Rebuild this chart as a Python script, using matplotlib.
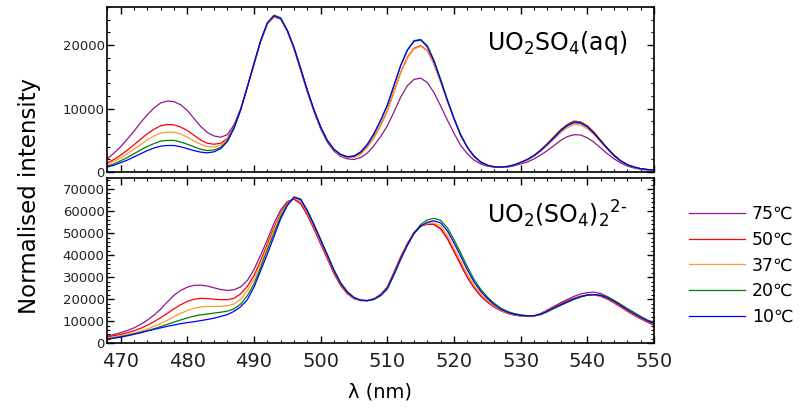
import matplotlib
matplotlib.use("Agg")
import matplotlib.pyplot as plt
import numpy as np
from matplotlib.ticker import MultipleLocator

# wavelength grid (nm), 1 nm steps
wl = np.arange(468, 551)

labels = ["75℃", "50℃", "37℃", "20℃", "10℃"]
colors = ["#8B1A8B", "#FF0000", "#FF9A2E", "#008000", "#0000FF"]

# UO2SO4(aq) spectra, in units of 1000
top_75 = [2.1, 3.0, 4.0, 5.2, 6.45, 7.8, 9.05, 10.1, 10.9, 11.2, 11.1, 10.6, 9.7, 8.45, 7.2, 6.25, 5.7, 5.5, 5.9, 7.45, 10.0,
          13.4, 17.0, 20.6, 23.4, 24.45, 24.1, 22.2, 19.4, 16.0, 12.6, 9.5, 6.8, 4.7, 3.3, 2.5, 2.1, 2.0, 2.3, 3.0, 4.2, 5.6,
          7.3, 9.5, 11.8, 13.6, 14.6, 14.8, 14.1, 12.5, 10.4, 8.2, 6.1, 4.2, 2.9, 1.9, 1.3, 0.95, 0.8, 0.75, 0.8, 1.0, 1.3,
          1.6, 2.1, 2.7, 3.4, 4.2, 5.0, 5.6, 5.9, 5.85, 5.4, 4.7, 3.8, 2.9, 2.1, 1.45, 0.95, 0.65, 0.45, 0.35, 0.3]
top_50 = [1.45, 2.0, 2.7, 3.45, 4.3, 5.2, 6.05, 6.75, 7.3, 7.5, 7.45, 7.1, 6.55, 5.8, 5.05, 4.55, 4.4, 4.55, 5.3, 7.15, 9.9,
          13.4, 17.0, 20.6, 23.3, 24.4, 24.1, 22.2, 19.5, 16.2, 12.8, 9.7, 7.0, 4.9, 3.5, 2.7, 2.3, 2.4, 2.9, 4.0, 5.5, 7.4,
          9.7, 12.7, 15.7, 18.1, 19.5, 19.9, 19.1, 17.0, 14.2, 11.2, 8.4, 5.8, 3.9, 2.5, 1.6, 1.05, 0.8, 0.75, 0.85, 1.1, 1.5,
          2.0, 2.65, 3.5, 4.5, 5.6, 6.7, 7.5, 8.05, 7.9, 7.3, 6.3, 5.0, 3.8, 2.7, 1.8, 1.2, 0.8, 0.55, 0.4, 0.3]
top_37 = [1.2, 1.7, 2.25, 2.9, 3.6, 4.35, 5.1, 5.7, 6.15, 6.3, 6.3, 6.0, 5.5, 4.9, 4.4, 4.0, 3.95, 4.25, 5.1, 7.05, 9.85,
          13.4, 17.0, 20.6, 23.3, 24.4, 24.1, 22.2, 19.5, 16.2, 12.8, 9.7, 7.0, 4.9, 3.5, 2.65, 2.3, 2.35, 2.85, 3.95, 5.4, 7.3,
          9.6, 12.6, 15.6, 18.0, 19.4, 19.8, 19.1, 17.0, 14.2, 11.2, 8.4, 5.8, 3.9, 2.5, 1.6, 1.05, 0.8, 0.75, 0.85, 1.1, 1.45,
          1.9, 2.5, 3.3, 4.2, 5.2, 6.2, 7.0, 7.5, 7.4, 6.8, 5.9, 4.7, 3.6, 2.5, 1.7, 1.1, 0.75, 0.5, 0.4, 0.32]
top_20 = [0.95, 1.3, 1.8, 2.3, 2.9, 3.5, 4.05, 4.5, 4.9, 5.0, 5.0, 4.75, 4.4, 4.0, 3.6, 3.4, 3.5, 3.9, 4.9, 7.0, 9.8,
          13.4, 17.1, 20.7, 23.5, 24.7, 24.3, 22.3, 19.6, 16.3, 12.9, 9.8, 7.1, 5.0, 3.6, 2.75, 2.4, 2.5, 3.1, 4.3, 6.0, 8.1,
          10.5, 13.6, 16.8, 19.2, 20.7, 20.9, 19.9, 17.6, 14.6, 11.4, 8.5, 5.9, 3.9, 2.5, 1.6, 1.1, 0.85, 0.8, 0.9, 1.15, 1.55,
          2.0, 2.65, 3.45, 4.45, 5.5, 6.6, 7.4, 7.9, 7.8, 7.2, 6.15, 4.95, 3.75, 2.65, 1.8, 1.2, 0.8, 0.55, 0.42, 0.35]
top_10 = [0.8, 1.1, 1.5, 1.9, 2.4, 2.9, 3.4, 3.8, 4.1, 4.2, 4.2, 4.0, 3.7, 3.4, 3.15, 3.05, 3.2, 3.7, 4.8, 6.9, 9.8,
          13.4, 17.1, 20.7, 23.5, 24.6, 24.2, 22.3, 19.6, 16.3, 12.9, 9.8, 7.1, 5.0, 3.6, 2.8, 2.45, 2.55, 3.2, 4.4, 6.1, 8.2,
          10.6, 13.7, 16.8, 19.2, 20.6, 20.8, 19.7, 17.4, 14.4, 11.3, 8.4, 5.8, 3.9, 2.5, 1.6, 1.1, 0.85, 0.8, 0.9, 1.15, 1.55,
          2.0, 2.6, 3.4, 4.4, 5.4, 6.5, 7.3, 7.8, 7.7, 7.1, 6.1, 4.9, 3.7, 2.6, 1.75, 1.15, 0.8, 0.55, 0.42, 0.35]

# UO2(SO4)2 2- spectra, in units of 1000
bot_75 = [3.3, 4.0, 4.8, 5.8, 7.0, 8.6, 10.5, 12.8, 15.5, 18.8, 21.8, 24.0, 25.5, 26.3, 26.4, 26.0, 25.2, 24.4, 24.0, 24.3, 25.6,
          28.5, 33.5, 40.0, 47.0, 54.5, 60.5, 64.3, 65.4, 63.4, 58.2, 51.9, 45.1, 38.4, 31.7, 26.2, 22.5, 20.3, 19.4, 19.4, 20.2, 22.2,
          25.6, 32.2, 39.2, 45.2, 50.3, 53.2, 54.1, 53.9, 51.9, 47.5, 41.6, 35.7, 29.9, 25.2, 21.5, 18.7, 16.5, 14.8, 13.6, 12.8, 12.4,
          12.3, 12.4, 13.5, 15.1, 16.8, 18.4, 19.9, 21.3, 22.4, 23.0, 23.2, 22.6, 21.2, 19.3, 17.2, 15.1, 13.1, 11.4, 9.7, 8.2]
bot_50 = [2.9, 3.4, 4.0, 4.8, 5.7, 6.8, 8.2, 9.8, 11.6, 13.6, 15.6, 17.5, 19.0, 20.0, 20.4, 20.3, 20.0, 19.8, 19.8, 20.4, 22.5,
          25.8, 30.8, 37.5, 45.0, 52.5, 59.0, 64.2, 65.5, 63.5, 58.3, 52.0, 45.2, 38.5, 31.8, 26.3, 22.6, 20.3, 19.4, 19.4, 20.2, 22.2,
          25.6, 32.2, 39.2, 45.2, 50.3, 53.2, 54.1, 54.0, 52.0, 47.6, 41.7, 35.8, 30.0, 25.3, 21.6, 18.8, 16.6, 14.9, 13.7, 12.9, 12.5,
          12.3, 12.4, 13.4, 14.9, 16.4, 17.9, 19.3, 20.5, 21.4, 22.0, 22.0, 21.3, 20.0, 18.3, 16.4, 14.5, 12.7, 11.1, 9.6, 8.3]
bot_37 = [2.4, 2.9, 3.4, 4.0, 4.7, 5.5, 6.5, 7.7, 9.0, 10.5, 12.1, 13.6, 14.9, 15.9, 16.5, 16.7, 16.7, 16.8, 17.0, 17.8, 20.0,
          23.8, 29.2, 36.2, 44.0, 51.5, 58.5, 63.5, 66.0, 64.5, 59.2, 52.9, 46.1, 39.3, 32.5, 26.8, 22.9, 20.5, 19.5, 19.4, 20.1, 22.0,
          25.3, 31.8, 38.8, 44.8, 49.9, 53.1, 54.5, 54.7, 53.2, 49.0, 43.2, 37.3, 31.3, 26.3, 22.4, 19.4, 17.0, 15.1, 13.8, 13.0, 12.5,
          12.3, 12.4, 13.3, 14.7, 16.2, 17.6, 19.0, 20.3, 21.3, 21.9, 22.0, 21.5, 20.4, 18.8, 16.9, 15.0, 13.2, 11.5, 10.0, 8.7]
bot_20 = [2.0, 2.5, 3.0, 3.6, 4.2, 4.9, 5.7, 6.6, 7.6, 8.6, 9.6, 10.6, 11.5, 12.3, 12.9, 13.3, 13.7, 14.1, 14.6, 15.6, 17.8,
          21.6, 27.0, 34.5, 42.5, 50.0, 57.5, 63.0, 66.4, 65.5, 60.4, 54.0, 47.2, 40.3, 33.3, 27.5, 23.4, 20.8, 19.6, 19.3, 19.9, 21.6,
          24.7, 31.0, 38.0, 44.5, 50.0, 53.9, 56.0, 56.7, 55.8, 52.4, 47.0, 41.0, 34.7, 29.0, 24.5, 21.0, 18.2, 16.0, 14.5, 13.5, 12.9,
          12.5, 12.5, 13.0, 14.3, 15.8, 17.2, 18.6, 19.9, 21.0, 21.8, 22.1, 21.9, 21.0, 19.5, 17.7, 15.8, 14.0, 12.2, 10.6, 9.3]
bot_10 = [1.8, 2.3, 2.8, 3.4, 4.1, 4.8, 5.6, 6.3, 7.0, 7.7, 8.3, 8.9, 9.4, 9.8, 10.3, 10.8, 11.4, 12.2, 13.0, 14.5, 16.6,
          19.8, 25.5, 33.0, 40.5, 48.5, 56.5, 62.5, 66.3, 65.2, 60.0, 53.6, 46.8, 40.0, 33.0, 27.2, 23.2, 20.7, 19.6, 19.4, 20.0, 21.8,
          25.0, 31.5, 38.5, 44.5, 49.8, 53.2, 54.9, 55.6, 54.6, 51.0, 45.5, 39.5, 33.3, 27.8, 23.6, 20.3, 17.6, 15.5, 14.1, 13.2, 12.7,
          12.4, 12.5, 13.2, 14.6, 16.1, 17.5, 18.9, 20.2, 21.2, 21.9, 22.1, 21.7, 20.6, 19.0, 17.1, 15.2, 13.4, 11.7, 10.2, 8.9]

top_series = [top_75, top_50, top_37, top_20, top_10]
bot_series = [bot_75, bot_50, bot_37, bot_20, bot_10]

plt.rcParams["font.family"] = "DejaVu Sans"

fig = plt.figure(figsize=(8.1, 4.08), dpi=100)
ax1 = fig.add_axes([0.1325, 0.578, 0.675, 0.405])
ax2 = fig.add_axes([0.1325, 0.1586, 0.675, 0.405])

for ys, c, lab in zip(top_series, colors, labels):
    ax1.plot(wl, np.array(ys) * 1000, color=c, lw=0.9, label=lab)
lines = []
for ys, c, lab in zip(bot_series, colors, labels):
    ln, = ax2.plot(wl, np.array(ys) * 1000, color=c, lw=0.9, label=lab)
    lines.append(ln)

ax1.set_xlim(468, 550)
ax1.set_ylim(0, 26000)
ax2.set_xlim(468, 550)
ax2.set_ylim(0, 75000)

ax1.yaxis.set_major_locator(MultipleLocator(10000))
ax1.yaxis.set_minor_locator(MultipleLocator(2000))
ax2.yaxis.set_major_locator(MultipleLocator(10000))
ax2.yaxis.set_minor_locator(MultipleLocator(2000))
for ax in (ax1, ax2):
    ax.xaxis.set_major_locator(MultipleLocator(10))
    ax.xaxis.set_minor_locator(MultipleLocator(2))
    ax.tick_params(which="both", direction="in", top=True, right=True, colors="black")
    ax.tick_params(which="major", length=5, width=1.0)
    ax.tick_params(which="minor", length=2.5, width=0.8)
    ax.tick_params(axis="y", labelsize=9.5, labelcolor="#222222", pad=2)
    for s in ax.spines.values():
        s.set_linewidth(1.2)

ax1.tick_params(axis="x", labelbottom=False)
ax2.tick_params(axis="x", labelsize=14, labelcolor="#222222", pad=6)

ax1.text(0.95, 0.78, r"UO$_2$SO$_4$(aq)", transform=ax1.transAxes,
         ha="right", va="center", fontsize=17)
ax2.text(0.95, 0.78, "UO$_2$(SO$_4$)$_2$$^{2\u2010}$", transform=ax2.transAxes,
         ha="right", va="center", fontsize=17)

fig.text(0.037, 0.52, "Normalised intensity", rotation=90, ha="center", va="center", fontsize=16.5)
fig.text(0.469, 0.04, "λ (nm)", ha="center", va="center", fontsize=14)

fig.legend(handles=lines, labels=labels, loc="upper left", bbox_to_anchor=(0.851, 0.497),
           frameon=False, fontsize=12.5, handlelength=3.2, handletextpad=0.4,
           labelspacing=0.44, borderpad=0, borderaxespad=0)

fig.savefig("out.png", dpi=100)
